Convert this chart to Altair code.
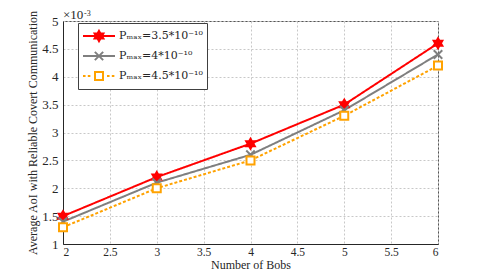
import math
import altair as alt
import pandas as pd

# ---- data (values in units of 1e-3) ----
bobs = [2, 3, 4, 5, 6]
aoi_p35 = [1.5, 2.2, 2.8, 3.5, 4.6]
aoi_p40 = [1.4, 2.1, 2.6, 3.4, 4.4]
aoi_p45 = [1.3, 2.0, 2.5, 3.3, 4.2]
series_ids = ["s35", "s40", "s45"]
legend_labels = ["Pₘₐₓ=3.5*10⁻¹⁰", "Pₘₐₓ=4*10⁻¹⁰", "Pₘₐₓ=4.5*10⁻¹⁰"]
x_ticks = [2, 2.5, 3, 3.5, 4, 4.5, 5, 5.5, 6]
y_ticks = [1, 1.5, 2, 2.5, 3, 3.5, 4, 4.5, 5]

rows = []
for sid, lab, vals in zip(series_ids, legend_labels, [aoi_p35, aoi_p40, aoi_p45]):
    for b, v in zip(bobs, vals):
        rows.append({"bobs": b, "aoi": v, "series": sid, "label": lab})
df = pd.DataFrame(rows)

# ---- styles ----
RED, GRAY, ORANGE = "#FF0000", "#7F7F7F", "#FFA200"
FONT = "Liberation Serif"
TXT = "#262626"


def star(r):
    pts = []
    for k in range(12):
        rad = r if k % 2 == 0 else r / math.sqrt(3)
        a = math.radians(-90 + 30 * k)
        pts.append(f"{rad * math.cos(a):.3f},{rad * math.sin(a):.3f}")
    return "M" + "L".join(pts) + "Z"


def xmark(r):
    return f"M{-r},{-r}L{r},{r}M{-r},{r}L{r},{-r}"


def square(r):
    return f"M{-r},{-r}L{r},{-r}L{r},{r}L{-r},{r}Z"


def dotted(skip):
    segs, x = [], -1.0
    while x < 1.0:
        x2 = min(x + 0.16, 1.0)
        if x2 < -skip or x > skip:
            segs.append(f"M{x:.3f},0L{x2:.3f},0")
        x += 0.3
    return "".join(segs)


domain = series_ids + legend_labels
colors = [RED, GRAY, ORANGE] * 2
fills = [RED, GRAY, "#FFFFFF"] * 2
shapes = [star(1.0), xmark(0.85), square(0.8),
          "M-1,0L1,0" + star(0.32),
          "M-1,0L1,0" + xmark(0.26),
          dotted(0.26) + square(0.25)]

color_scale = alt.Scale(domain=domain, range=colors)
fill_scale = alt.Scale(domain=domain, range=fills)
shape_scale = alt.Scale(domain=domain, range=shapes)

x_enc = alt.X("bobs:Q", scale=alt.Scale(domain=[2, 6], nice=False),
              axis=alt.Axis(values=x_ticks, format="~g", title="Number of Bobs",
                            titleY=24.5, titleBaseline="alphabetic", titleFontSize=12,
                            labelPadding=2, labelFontSize=11.5))
y_enc = alt.Y("aoi:Q", scale=alt.Scale(domain=[1, 5], nice=False, zero=False),
              axis=alt.Axis(values=y_ticks, format="~g",
                            title="Average  AoI with Reliable Covert Communication",
                            titleX=-31, titleBaseline="middle", titleFontSize=12,
                            labelPadding=5, labelFontSize=13))

base = alt.Chart(df)

lines = base.mark_line(strokeWidth=2).encode(
    x=x_enc, y=y_enc,
    color=alt.Color("series:N", scale=color_scale),
    strokeDash=alt.StrokeDash("series:N",
                              scale=alt.Scale(domain=series_ids, range=[[1, 0], [1, 0], [3, 2]]),
                              legend=None),
    order=alt.Order("bobs:Q"),
)

points = base.mark_point(size=100, strokeWidth=2, opacity=1).encode(
    x=x_enc, y=y_enc,
    color=alt.Color("series:N", scale=color_scale),
    fill=alt.Fill("series:N", scale=fill_scale),
    shape=alt.Shape("series:N", scale=shape_scale),
)

legend = alt.Legend(
    title=None, values=legend_labels, orient="none", legendX=15, legendY=2,
    symbolSize=1024, clipHeight=18, rowPadding=2, padding=4,
    symbolStrokeWidth=2, labelFont="DejaVu Serif", labelFontSize=11, labelColor=TXT,
    labelOffset=3, strokeColor="#404040", fillColor="white",
)

legend_layer = base.transform_filter("false").mark_point(size=100, strokeWidth=2, opacity=1).encode(
    x=x_enc, y=y_enc,
    color=alt.Color("label:N", scale=color_scale, legend=legend),
    fill=alt.Fill("label:N", scale=fill_scale, legend=legend),
    shape=alt.Shape("label:N", scale=shape_scale, legend=legend),
)

exp_base = alt.Chart(pd.DataFrame({"t": ["×10"]})).mark_text(
    align="left", baseline="alphabetic", font=FONT, fontSize=13, color=TXT
).encode(x=alt.value(0), y=alt.value(-2), text="t:N")
exp_sup = alt.Chart(pd.DataFrame({"t": ["-3"]})).mark_text(
    align="left", baseline="alphabetic", font=FONT, fontSize=8, color=TXT
).encode(x=alt.value(21), y=alt.value(-5), text="t:N")

chart = alt.layer(legend_layer, lines, points, exp_base, exp_sup).properties(
    width=375, height=223,
    autosize=alt.AutoSizeParams(type="none"),
    padding={"left": 55, "top": 13, "right": 30, "bottom": 27},
).configure_view(stroke="#555555", strokeWidth=1).configure_axis(
    labelFont=FONT, titleFont=FONT, labelFontSize=13, titleFontSize=13,
    labelColor=TXT, titleColor=TXT, titleFontWeight="normal",
    domainColor=TXT, domainWidth=1, ticks=False,
    gridColor="#C8C8C8", gridDash=[2, 2], gridWidth=1,
)

chart.save("out.html", embed_options={"renderer": "svg", "actions": False})
